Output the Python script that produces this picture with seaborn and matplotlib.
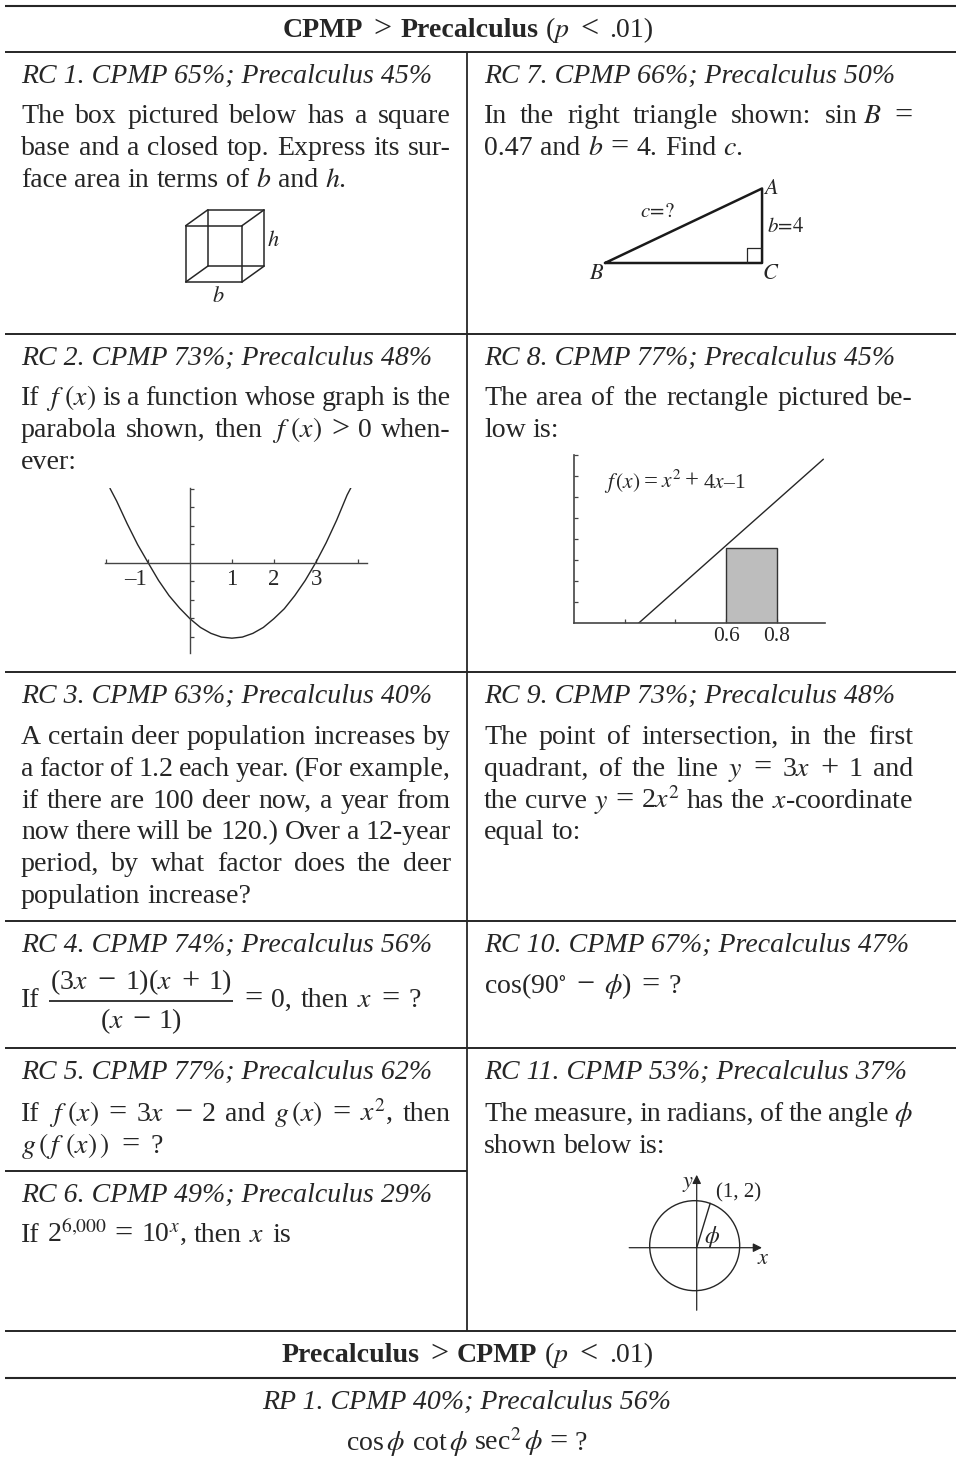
import matplotlib
matplotlib.use('agg')
import matplotlib.pyplot as plt
import seaborn as sns
from matplotlib.patches import Circle

INK = "#262626"
W, H = 956, 1464

RC_CPMP = [65, 73, 63, 74, 77, 49, 66, 77, 73, 67, 53]
RC_PRECALC = [45, 48, 40, 56, 62, 29, 50, 45, 48, 47, 37]
RP_CPMP = [40]
RP_PRECALC = [56]

RC1_BODY = ["The box pictured below has a square",
            "base and a closed top. Express its sur-",
            "face area in terms of $b$ and $h$."]
RC2_BODY = [r"If $f\,\,(x)$ is a function whose graph is the",
            r"parabola shown, then $f\,\,(x)$ > 0 when-",
            "ever:"]
RC3_BODY = ["A certain deer population increases by",
            "a factor of 1.2 each year. (For example,",
            "if there are 100 deer now, a year from",
            "now there will be 120.) Over a 12-year",
            "period, by what factor does the deer",
            "population increase?"]
RC5_BODY = ["If $f\\,\\,(x)$ = 3$x$ \u2212 2 and $g\\,(x)$ = $x^2$, then",
            r"$g\,(\,f\,\,(x)\,)$ = ?"]
RC6_BODY = ["If 2$^{6{,}000}$ = 10$^x$, then $x$ is"]
RC7_BODY = [r"In the right triangle shown: sin$\,\,B$ =",
            "0.47 and $b$ = 4. Find $c$."]
RC8_BODY = ["The area of the rectangle pictured be-",
            "low is:"]
RC9_BODY = ["The point of intersection, in the first",
            "quadrant, of the line $y$ = 3$x$ + 1 and",
            "the curve $y$ = 2$x^2$ has the $x$-coordinate",
            "equal to:"]
RC10_BODY = ["cos(90$^{\\circ}$ \u2212 $\\phi$) = ?"]
RC11_BODY = [r"The measure, in radians, of the angle $\phi$",
             "shown below is:"]
OPERATORS = ["=", "<", ">", "\u2212", "+"]

CUBE_X = [0, 1, 1, 1, 1, 0, 0, 0, 0.39, 1.39, 1.39, 1.39, 1.39, 0.39, 0.39, 0.39, 0, 0.39, 1, 1.39, 1, 1.39, 0, 0.39]
CUBE_Y = [0, 0, 0, 1, 1, 1, 1, 0, 0.28, 0.28, 0.28, 1.28, 1.28, 1.28, 1.28, 0.28, 0, 0.28, 0, 0.28, 1, 1.28, 1, 1.28]
CUBE_EDGE = [0, 0, 1, 1, 2, 2, 3, 3, 4, 4, 5, 5, 6, 6, 7, 7, 8, 8, 9, 9, 10, 10, 11, 11]

TRIANGLE_X = [0, 8.43, 8.43, 0]
TRIANGLE_Y = [0, 0, 4, 0]
RIGHT_ANGLE_X = [7.62, 7.62, 8.43]
RIGHT_ANGLE_Y = [0, 0.8, 0.8]

PARABOLA_X = [-1.91, -1.75, -1.5, -1.25, -1, -0.75, -0.5, -0.25, 0, 0.25, 0.5, 0.75, 1,
              1.25, 1.5, 1.75, 2, 2.25, 2.5, 2.75, 3, 3.25, 3.5, 3.75, 3.84]
PARABOLA_Y = [4.02, 3.33, 2.11, 0.98, 0, -0.96, -1.78, -2.45, -3.03, -3.5, -3.82, -4.02, -4.08,
              -4.02, -3.82, -3.5, -3.03, -2.49, -1.78, -0.96, 0, 1.08, 2.3, 3.66, 4.05]
PARABOLA_XTICKS = [-2, -1, 1, 2, 3, 4]
PARABOLA_YTICKS = [-4, -3, -2, -1, 1, 2, 3, 4]
PARABOLA_LABELS = ["\u20131", "1", "2", "3"]

FX_X = [0.255, 0.6, 0.8, 0.983]
FX_Y = [0, 1.85, 2.92, 3.9]
RECT_X = [0.7]
RECT_W = [0.2]
RECT_H = [1.78]
FX_XTICKS = [0.2, 0.4, 0.6, 0.8]
FX_YTICKS = [0.5, 1, 1.5, 2, 2.5, 3, 3.5, 4]
FX_LABELS = ["0.6", "0.8"]

PHI_X = [0, 0.3]
PHI_Y = [0, 0.985]

sns.set_style("white")
plt.rcParams['font.family'] = ['Liberation Serif', 'DejaVu Serif']
plt.rcParams['mathtext.fontset'] = 'stix'

fig = plt.figure(figsize=(W / 100, H / 100), dpi=100)
ax = fig.add_axes([0, 0, 1, 1])
ax.set_xlim(0, W)
ax.set_ylim(H, 0)
ax.axis("off")
renderer = fig.canvas.get_renderer()


def put_line(words, x0, base, x1=None, size=20.1, gap=7, **kw):
    """Place a line word by word, spread out to x1 if given"""
    items = [ax.text(0, base, w, fontsize=size * 1.15 if w in OPERATORS else size, color=INK,
                     va="baseline", **kw) for w in words]
    widths = [t.get_window_extent(renderer).width for t in items]
    if x1 is not None and len(words) > 1:
        gap = (x1 - x0 - sum(widths)) / (len(words) - 1)
    x = x0
    for t, w in zip(items, widths):
        t.set_x(x)
        x += w + gap
    return x - gap


def put_paragraph(lines, x0, x1, base, step=31.8, last_end=None):
    for i, line in enumerate(lines):
        end = x1 if i < len(lines) - 1 else last_end
        put_line(line.split(" "), x0, base + i * step, end)


def header(kind, n, cpmp, precalc, x, base, ha="left"):
    ax.text(x, base, f"{kind} {n}. CPMP {cpmp}%; Precalculus {precalc}%", fontsize=20.05, style="italic",
            color=INK, va="baseline", ha=ha)


def title(first, second, x0, x1, base):
    end = put_line([first], x0, base, weight="bold")
    put_line([">"], end + 10, base)
    end = put_line([second], end + 37, base, weight="bold")
    put_line(["($p$", "<", ".01)"], end + 7, base, x1)


def label(x, y, s, size=15):
    ax.text(x, y, s, fontsize=size, color=INK, va="baseline", ha="center")


def inset(left, top, right, bottom, x0, y0, sx, sy):
    """Axes over a pixel box, with data origin at pixel (x0, y0) and sx, sy pixels per unit"""
    a = fig.add_axes([left / W, 1 - bottom / H, (right - left) / W, (bottom - top) / H])
    a.patch.set_alpha(0)
    a.set_xlim((left - x0) / sx, (right - x0) / sx)
    a.set_ylim((y0 - bottom) / sy, (y0 - top) / sy)
    return a


# table rules
ax.hlines([6, 1378], 5, W, color=INK, lw=1.5)
ax.hlines([52, 333.5, 672, 920.5, 1048, 1331], 5, W, color=INK, lw=1.4)
ax.hlines(1170.7, 5, 467, color=INK, lw=1.4)
ax.vlines(466.7, 52, 1331, color=INK, lw=1.3)

# text
L0, L1, R0, R1 = 21, 450.7, 484, 913
title("CPMP", "Precalculus", 283, 653, 36.7)
left_bases = [82.7, 364.5, 703, 951.7, 1079.3, 1201.7]
right_bases = [82.7, 364.5, 703, 951.7, 1079.3]
for i, b in enumerate(left_bases):
    header("RC", i + 1, RC_CPMP[i], RC_PRECALC[i], L0, b)
for i, b in enumerate(right_bases):
    header("RC", i + 7, RC_CPMP[i + 6], RC_PRECALC[i + 6], R0, b)

put_paragraph(RC1_BODY, L0, L1, 123.3)
put_paragraph(RC2_BODY, L0, L1, 405)
put_paragraph(RC3_BODY, L0, L1, 744)
put_paragraph(RC5_BODY, L0, L1, 1121, last_end=163)
put_paragraph(RC6_BODY, L0, L1, 1241.7, last_end=291)
put_paragraph(RC7_BODY, R0, R1, 123.3, last_end=743)
put_paragraph(RC8_BODY, R0, R1, 405)
put_paragraph(RC9_BODY, R0, R1, 744)
put_paragraph(RC10_BODY, R0, R1, 993, last_end=681)
put_paragraph(RC11_BODY, R0, R1, 1121)

# RC 4 fraction
put_line(["If"], L0, 1007)
put_line(["(3$x$", "\u2212", "1)($x$", "+", "1)"], 50, 989, 232)
put_line(["($x$", "\u2212", "1)"], 100, 1028, 182)
ax.hlines(1001, 49, 233, color=INK, lw=1.3)
put_line(["=", "0,", "then", "$x$", "=", "?"], 244, 1007, 420.7)

title("Precalculus", "CPMP", 282, 653, 1362)
header("RP", 1, RP_CPMP[0], RP_PRECALC[0], 466.5, 1409, ha="center")
put_line(["cos$\\,\\phi$", "cot$\\,\\phi$", "sec$^2\\,\\phi$", "=", "?"], 346, 1450, 587)

# box
cube = inset(180, 205, 270, 287, 185.7, 282, 56.3, 56.3)
sns.lineplot(x=CUBE_X, y=CUBE_Y, units=CUBE_EDGE, estimator=None, sort=False, color=INK, lw=1.1,
             legend=False, ax=cube)
cube.set_xlim(-5.7 / 56.3, 84.3 / 56.3)
cube.set_ylim(-5 / 56.3, 77 / 56.3)
cube.axis("off")
label(273, 246, "$h$", 16)
label(218, 302, "$b$", 16)

# triangle
tri = inset(600, 183, 768, 268, 605, 263, 18.63, 18.63)
sns.lineplot(x=TRIANGLE_X, y=TRIANGLE_Y, estimator=None, sort=False, color="#1a1a1a", lw=1.8, legend=False, ax=tri)
sns.lineplot(x=RIGHT_ANGLE_X, y=RIGHT_ANGLE_Y, estimator=None, sort=False, color=INK, lw=0.9, legend=False, ax=tri)
tri.set_xlim(-5 / 18.63, 163 / 18.63)
tri.set_ylim(-5 / 18.63, 80 / 18.63)
tri.axis("off")
label(771, 194, "$A$", 16)
label(597, 279, "$B$", 16)
label(771, 279, "$C$", 16)
label(658, 217, "$c\\!=\\!?$")
label(786, 232, "$b\\!=\\!4$")

# parabola
par = inset(105, 488, 367, 653, 190, 562.7, 41.9, 18.5)
sns.lineplot(x=PARABOLA_X, y=PARABOLA_Y, estimator=None, sort=False, color=INK, lw=1.0, legend=False, ax=par)
par.set_xlim((105 - 190) / 41.9, (367 - 190) / 41.9)
par.set_ylim((562.7 - 653) / 18.5, (562.7 - 488) / 18.5)
for s in ["top", "right"]:
    par.spines[s].set_visible(False)
for s in ["left", "bottom"]:
    par.spines[s].set_position("zero")
    par.spines[s].set_color("#444444")
    par.spines[s].set_linewidth(1.0)
par.set_xticks(PARABOLA_XTICKS)
par.set_yticks(PARABOLA_YTICKS)
par.tick_params(direction="in", length=3, width=0.9, color="#444444", labelbottom=False, labelleft=False,
                bottom=True, left=True)
for xv, s in zip([-1.3, 1, 2, 3.03], PARABOLA_LABELS):
    par.text(xv, -1.22, s, fontsize=16.5, color=INK, ha="center", va="baseline")

# f(x) line with rectangle
fx = inset(573.7, 455, 825, 623.3, 573.7, 623.3, 254, 42.1)
sns.lineplot(x=FX_X, y=FX_Y, estimator=None, sort=False, color=INK, lw=1.0, legend=False, ax=fx)
fx.bar(RECT_X, RECT_H, width=RECT_W, color="#bdbdbd", edgecolor="#333333", lw=1.0)
fx.set_xlim(0, 251.3 / 254)
fx.set_ylim(0, 168.3 / 42.1)
for s in ["top", "right"]:
    fx.spines[s].set_visible(False)
for s in ["left", "bottom"]:
    fx.spines[s].set_color("#444444")
    fx.spines[s].set_linewidth(1.2)
fx.set_xticks(FX_XTICKS)
fx.set_yticks(FX_YTICKS)
fx.tick_params(direction="in", length=3, width=0.9, color="#444444", labelbottom=False, labelleft=False,
               bottom=True, left=True)
for xv, s in zip(FX_XTICKS[2:], FX_LABELS):
    fx.text(xv, -0.43, s, fontsize=15.5, color=INK, ha="center", va="baseline")
put_line(["$f\\,(x)$", "=", "$x^2$", "+", "4$x$\u20131"], 604, 488, 745, size=15.5)

# unit circle
uc = inset(625, 1170, 770, 1315, 696.7, 1247.7, 45, 45)
uc.add_patch(Circle((-0.045, 0.045), 1, fill=False, ec=INK, lw=1.0))
arrow = dict(arrowstyle="-|>", color=INK, lw=0.9, shrinkA=0, shrinkB=0, mutation_scale=13)
uc.annotate("", xy=(1.45, 0), xytext=(-1.5, 0), arrowprops=arrow)
uc.annotate("", xy=(0, 1.62), xytext=(0, -1.39), arrowprops=arrow)
sns.lineplot(x=PHI_X, y=PHI_Y, estimator=None, sort=False, color=INK, lw=1.0, legend=False, ax=uc)
uc.set_xlim((625 - 696.7) / 45, (770 - 696.7) / 45)
uc.set_ylim((1247.7 - 1315) / 45, (1247.7 - 1170) / 45)
uc.axis("off")
label(688, 1187, "$y$", 16)
label(739, 1197, "(1, 2)", 15)
label(712, 1243, r"$\phi$", 17)
label(763, 1264, "$x$", 16)

plt.savefig("out.png", dpi=100)
plt.close()
